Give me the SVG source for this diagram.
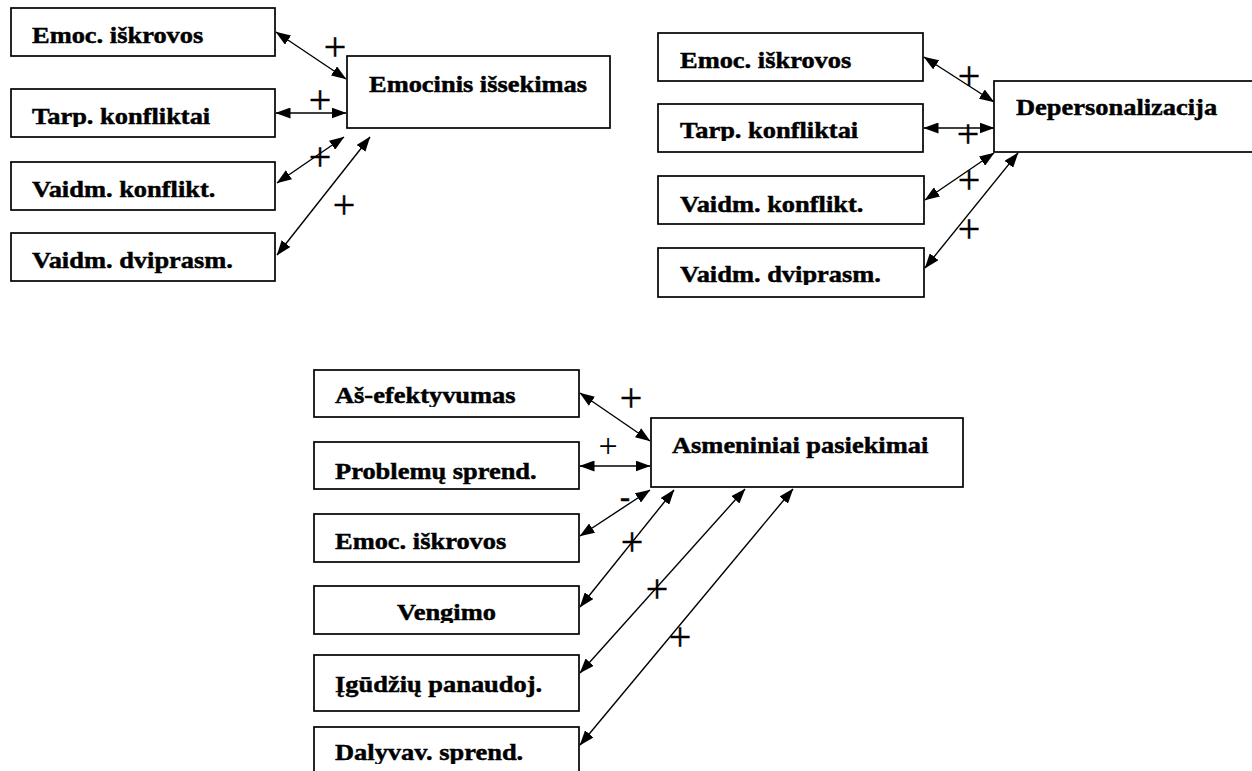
<svg xmlns="http://www.w3.org/2000/svg" width="1252" height="771" viewBox="0 0 1252 771">
  <style>
    .box { fill: #fff; stroke: #000; stroke-width: 1.7; }
    .lbl { font-family: "Liberation Serif", "Times New Roman", serif; font-weight: bold; font-size: 23px; fill: #000; stroke: #000; stroke-width: 0.45; }
    .sign { font-family: "Liberation Serif", "Times New Roman", serif; font-size: 40px; text-anchor: middle; fill: #000; stroke: #000; stroke-width: 0.4; }
    .dash { font-family: "Liberation Serif", "Times New Roman", serif; font-weight: bold; font-size: 30px; text-anchor: middle; fill: #000; stroke: #000; stroke-width: 0.5; }
    .link { fill: none; stroke: #000; stroke-width: 1.4; marker-start: url(#ah); marker-end: url(#ah); }
  </style>
  <defs>
    <marker id="ah" viewBox="0 0 15 11" refX="14.5" refY="5.5" markerWidth="15" markerHeight="11" markerUnits="userSpaceOnUse" orient="auto-start-reverse">
      <path d="M0,0 L15,5.5 L0,11 z" fill="#000"/>
    </marker>
    <!-- text areas of the boxes whose descenders are cut by the box margin -->
    <clipPath id="c-tl2" clipPathUnits="userSpaceOnUse"><rect x="11" y="89" width="264" height="38"/></clipPath>
    <clipPath id="c-tr2" clipPathUnits="userSpaceOnUse"><rect x="658" y="104" width="265" height="37"/></clipPath>
    <clipPath id="c-tr4" clipPathUnits="userSpaceOnUse"><rect x="658" y="248" width="266" height="37"/></clipPath>
    <clipPath id="c-b1" clipPathUnits="userSpaceOnUse"><rect x="314" y="370" width="265" height="37"/></clipPath>
    <clipPath id="c-b2" clipPathUnits="userSpaceOnUse"><rect x="314" y="442" width="265" height="45"/></clipPath>
    <clipPath id="c-b4" clipPathUnits="userSpaceOnUse"><rect x="314" y="586" width="265" height="37"/></clipPath>
    <clipPath id="c-b5" clipPathUnits="userSpaceOnUse"><rect x="314" y="655" width="265" height="43"/></clipPath>
    <clipPath id="c-b6" clipPathUnits="userSpaceOnUse"><rect x="314" y="727" width="265" height="37"/></clipPath>
  </defs>

  <!-- connectors -->
  <g id="connectors">
    <!-- Emocinis išsekimas -->
    <line class="link" x1="276" y1="32" x2="346" y2="79"/>
    <line class="link" x1="276" y1="113" x2="346" y2="113"/>
    <line class="link" x1="277" y1="183" x2="344" y2="137"/>
    <line class="link" x1="277" y1="255" x2="370" y2="137"/>
    <text class="sign" x="335" y="60">+</text>
    <text class="sign" x="320" y="113">+</text>
    <text class="sign" x="320" y="170">+</text>
    <text class="sign" x="344" y="218">+</text>

    <!-- Depersonalizacija -->
    <line class="link" x1="924" y1="57" x2="994" y2="102"/>
    <line class="link" x1="924" y1="128" x2="994" y2="128"/>
    <line class="link" x1="925" y1="200" x2="994" y2="153"/>
    <line class="link" x1="925" y1="268" x2="1018" y2="153"/>
    <text class="sign" x="969" y="89">+</text>
    <text class="sign" x="968" y="147">+</text>
    <text class="sign" x="969" y="193">+</text>
    <text class="sign" x="969" y="242">+</text>

    <!-- Asmeniniai pasiekimai -->
    <line class="link" x1="580" y1="393" x2="650" y2="441"/>
    <line class="link" x1="580" y1="466" x2="650" y2="466"/>
    <line class="link" x1="580" y1="536" x2="650" y2="490"/>
    <line class="link" x1="580" y1="607" x2="674" y2="490"/>
    <line class="link" x1="580" y1="673" x2="745" y2="489"/>
    <line class="link" x1="580" y1="745" x2="793" y2="489"/>
    <text class="sign" x="631" y="411">+</text>
    <text class="sign" x="608" y="457" style="font-size:34px;stroke-width:0">+</text>
    <text class="dash" x="625" y="507">-</text>
    <text class="sign" x="632" y="555">+</text>
    <text class="sign" x="657" y="602">+</text>
    <text class="sign" x="680" y="650">+</text>
  </g>

  <!-- Emocinis išsekimas cluster -->
  <g id="tl-emoc">
    <rect class="box" x="11" y="8" width="264" height="48"/>
    <text class="lbl" transform="translate(32,43) scale(1.15,1)">Emoc. iškrovos</text>
  </g>
  <g id="tl-tarp">
    <rect class="box" x="11" y="89" width="264" height="48"/>
    <g clip-path="url(#c-tl2)"><text class="lbl" transform="translate(32,124) scale(1.15,1)">Tarp. konfliktai</text></g>
  </g>
  <g id="tl-vkonf">
    <rect class="box" x="11" y="162" width="264" height="48"/>
    <text class="lbl" transform="translate(32,197) scale(1.15,1)">Vaidm. konflikt.</text>
  </g>
  <g id="tl-vdvip">
    <rect class="box" x="11" y="233" width="264" height="48"/>
    <text class="lbl" transform="translate(32,268) scale(1.15,1)">Vaidm. dviprasm.</text>
  </g>
  <g id="emocinis-issekimas">
    <rect class="box" x="347" y="56" width="263" height="72"/>
    <text class="lbl" transform="translate(369,92) scale(1.15,1)">Emocinis išsekimas</text>
  </g>

  <!-- Depersonalizacija cluster -->
  <g id="tr-emoc">
    <rect class="box" x="658" y="33" width="265" height="48"/>
    <text class="lbl" transform="translate(680,68) scale(1.15,1)">Emoc. iškrovos</text>
  </g>
  <g id="tr-tarp">
    <rect class="box" x="658" y="104" width="265" height="48"/>
    <g clip-path="url(#c-tr2)"><text class="lbl" transform="translate(680,138) scale(1.15,1)">Tarp. konfliktai</text></g>
  </g>
  <g id="tr-vkonf">
    <rect class="box" x="658" y="176" width="266" height="48"/>
    <text class="lbl" transform="translate(680,212) scale(1.15,1)">Vaidm. konflikt.</text>
  </g>
  <g id="tr-vdvip">
    <rect class="box" x="658" y="248" width="266" height="49"/>
    <g clip-path="url(#c-tr4)"><text class="lbl" transform="translate(680,282) scale(1.15,1)">Vaidm. dviprasm.</text></g>
  </g>
  <g id="depersonalizacija">
    <rect class="box" x="994" y="81" width="262" height="71"/>
    <text class="lbl" transform="translate(1016,115) scale(1.15,1)">Depersonalizacija</text>
  </g>

  <!-- Asmeniniai pasiekimai cluster -->
  <g id="b-asefekt">
    <rect class="box" x="314" y="370" width="265" height="47"/>
    <g clip-path="url(#c-b1)"><text class="lbl" transform="translate(335,403) scale(1.15,1)">Aš-efektyvumas</text></g>
  </g>
  <g id="b-problem">
    <rect class="box" x="314" y="442" width="265" height="47"/>
    <g clip-path="url(#c-b2)"><text class="lbl" transform="translate(335,479) scale(1.15,1)">Problemų sprend.</text></g>
  </g>
  <g id="b-emoc">
    <rect class="box" x="314" y="514" width="265" height="48"/>
    <text class="lbl" transform="translate(335,549) scale(1.15,1)">Emoc. iškrovos</text>
  </g>
  <g id="b-vengimo">
    <rect class="box" x="314" y="586" width="265" height="48"/>
    <g clip-path="url(#c-b4)"><text class="lbl" transform="translate(397,620) scale(1.15,1)">Vengimo</text></g>
  </g>
  <g id="b-igudziu">
    <rect class="box" x="314" y="655" width="265" height="56"/>
    <g clip-path="url(#c-b5)"><text class="lbl" transform="translate(335,692) scale(1.15,1)">Įgūdžių panaudoj.</text></g>
  </g>
  <g id="b-dalyvav">
    <rect class="box" x="314" y="727" width="265" height="60"/>
    <g clip-path="url(#c-b6)"><text class="lbl" transform="translate(335,760) scale(1.15,1)">Dalyvav. sprend.</text></g>
  </g>
  <g id="asmeniniai-pasiekimai">
    <rect class="box" x="651" y="418" width="312" height="69"/>
    <text class="lbl" transform="translate(672,453) scale(1.15,1)">Asmeniniai pasiekimai</text>
  </g>
</svg>
